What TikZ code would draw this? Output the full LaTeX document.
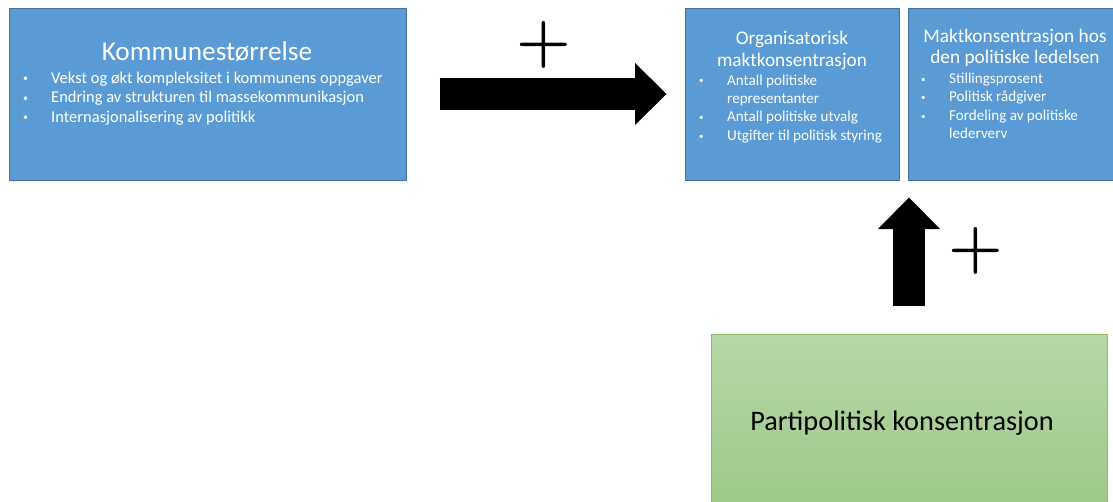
\documentclass[tikz,border=0pt]{standalone}
\usepackage{fontspec}
\newfontfamily\calibri{Carlito}
\usetikzlibrary{arrows.meta,positioning}
\definecolor{boxblue}{RGB}{91,155,213}
\definecolor{boxedge}{RGB}{65,113,156}
\definecolor{greentop}{RGB}{183,215,168}
\definecolor{greenbot}{RGB}{157,201,135}
\definecolor{greenedge}{RGB}{140,190,105}
\newcommand{\blt}{\makebox[29pt][l]{\hspace{1pt}\raisebox{1.2pt}{\scalebox{0.6}{\textbullet}}}}
\newcommand{\nbl}{\hspace*{29pt}}
\begin{document}
\begin{tikzpicture}[x=1pt,y=-1pt,line join=round,
		bluebox/.style={draw=boxedge,fill=boxblue,line width=1pt,inner sep=0pt},
		greenbox/.style={draw=greenedge,top color=greentop,bottom color=greenbot,line width=1pt,inner sep=0pt},
		headtext/.style={anchor=base,inner sep=0pt,text=white,font=\calibri\fontsize{19.3}{23}\selectfont},
		listtext/.style={anchor=base west,inner sep=0pt,text=white,font=\calibri\fontsize{15.1}{18}\selectfont},
		plussign/.style={inner sep=0pt,font=\fontsize{62.5}{62.5}\selectfont\bfseries\addfontfeatures{FakeBold=2}},
		blockarrow/.style={line width=31.5pt,-{Triangle[length=31.5pt,width=62pt,line width'=0pt]}}]
	\useasboundingbox (0,0) rectangle (1113,501);
	\clip (0,0) rectangle (1113,501);
	% boxes
	\node [bluebox,minimum width=397pt,minimum height=172pt] (komm) at (207.5,94) {};
	\node [bluebox,minimum width=214pt,minimum height=172pt] (org) at (792,94) {};
	\node [bluebox,minimum width=214pt,minimum height=172pt] (leder) at (1015,94) {};
	\node [greenbox,minimum width=396pt,minimum height=174pt] (parti) at (909,421) {};
	% texts
	\node [headtext,font=\calibri\fontsize{27.3}{32}\selectfont] (kommT) at (207,60) {Kommunestørrelse};
	\foreach \t [count=\i] in {Vekst og økt kompleksitet i kommunens oppgaver,
			Endring av strukturen til massekommunikasjon,
			Internasjonalisering av politikk}
		\node [listtext,font=\calibri\fontsize{16.5}{19.5}\selectfont] (kommL\i) at (22,63.5+19.5*\i) {\blt\t};
	\node [headtext] (orgT1) at (792,44) {Organisatorisk};
	\node [headtext] (orgT2) at (792,66) {maktkonsentrasjon};
	\foreach \t [count=\i] in {{\blt Antall politiske},{\nbl representanter},
			{\blt Antall politiske utvalg},{\blt Utgifter til politisk styring}}
		\node [listtext] (orgL\i) at (698,66.6+18.4*\i) {\t};
	\node [headtext] (lederT1) at (1015,42) {Maktkonsentrasjon hos};
	\node [headtext] (lederT2) at (1015,63.5) {den politiske ledelsen};
	\foreach \t [count=\i] in {{\blt Stillingsprosent},{\blt Politisk rådgiver},
			{\blt Fordeling av politiske},{\nbl lederverv}}
		\node [listtext] (lederL\i) at (920,65.1+18.4*\i) {\t};
	\node [anchor=base,inner sep=0pt,font=\calibri\fontsize{28.3}{34}\selectfont] (partiT) at (902,430) {Partipolitisk konsentrasjon};
	% arrows
	\coordinate (a1s) at ([xshift=33pt]komm.east);
	\coordinate (a1e) at ([xshift=-18pt]org.west);
	\coordinate (a2s) at ([yshift=28pt]parti.north);
	\coordinate (a2e) at ([yshift=-17pt]parti.north |- org.south);
	\draw [blockarrow] (a1s) -- (a1e);
	\draw [blockarrow] (a2s) -- (a2e);
	\node [plussign] (plus1) at (544,45) {+};
	\node [plussign] (plus2) at (976,251) {+};
\end{tikzpicture}
\end{document}
